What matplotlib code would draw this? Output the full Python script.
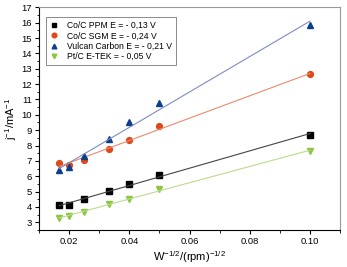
import numpy as np
import matplotlib
matplotlib.use("Agg")
import matplotlib.pyplot as plt
from matplotlib.ticker import MultipleLocator

plt.rcParams['font.family'] = ['Liberation Sans', 'DejaVu Sans']
plt.rcParams['mathtext.fontset'] = 'custom'
plt.rcParams['mathtext.rm'] = 'Liberation Sans'
plt.rcParams['mathtext.it'] = 'Liberation Sans:italic'

x = [1 / np.sqrt(r) for r in [3600, 2500, 1600, 900, 625, 400, 100]]
ppm = [4.1, 4.1, 4.5, 5.05, 5.5, 6.1, 8.7]
sgm = [6.85, 6.75, 7.05, 7.75, 8.35, 9.25, 12.65]
vulcan = [6.4, 6.6, 7.3, 8.4, 9.5, 10.8, 15.85]
ptc = [3.3, 3.4, 3.65, 4.2, 4.55, 5.15, 7.65]

labels = ['Co/C PPM E = - 0,13 V', 'Co/C SGM E = - 0,24 V',
          'Vulcan Carbon E = - 0,21 V', 'Pt/C E-TEK = - 0,05 V']
markers = ['s', 'o', '^', 'v']
colors = ['#000000', '#e0481c', '#0b3f8c', '#8cc63e']
line_colors = ['#444444', '#ec8a6c', '#7d8cc4', '#bcdc8c']

fig = plt.figure(figsize=(3.47, 2.67), dpi=100)
ax = fig.add_axes([0.1124, 0.1386, 0.8676, 0.8341])

for y, lab, m, c, lc in zip([ppm, sgm, vulcan, ptc], labels, markers, colors, line_colors):
    ax.plot(x, y, m, color=c, markersize=4.2, label=lab, linestyle='none')
    k, b = np.polyfit(x, y, 1)
    xs = np.array([min(x), max(x)])
    ax.plot(xs, k * xs + b, color=lc, linewidth=0.8)

ax.set_xlim(0.01, 0.11)
ax.set_ylim(2.5, 17)
ax.xaxis.set_minor_locator(MultipleLocator(0.01))
ax.yaxis.set_major_locator(MultipleLocator(1))
ax.yaxis.set_minor_locator(MultipleLocator(0.5))
ax.set_xticks([0.02, 0.04, 0.06, 0.08, 0.10])
ax.set_xticklabels(['0.02', '0.04', '0.06', '0.08', '0.10'])
ax.tick_params(which='major', direction='out', length=3, width=0.8, labelsize=6.8, pad=2)
ax.tick_params(which='minor', direction='out', length=1.8, width=0.6)
for s in ax.spines.values():
    s.set_linewidth(0.8)
for s in ['top', 'right']:
    ax.spines[s].set_color('#999999')

ax.set_xlabel('W$^{-1/2}$/(rpm)$^{-1/2}$', fontsize=8, labelpad=2)
ax.set_ylabel('j$^{-1}$/mA$^{-1}$', fontsize=8, labelpad=2)

leg = ax.legend(loc='upper left', bbox_to_anchor=(0.017, 0.965), fontsize=6.2,
                frameon=True, fancybox=False, edgecolor='#555555',
                handlelength=1.0, handletextpad=0.9, borderpad=0.5,
                borderaxespad=0.2, labelspacing=0.15, markerscale=0.8)
leg.get_frame().set_linewidth(0.6)

fig.savefig('out.png', dpi=100)
